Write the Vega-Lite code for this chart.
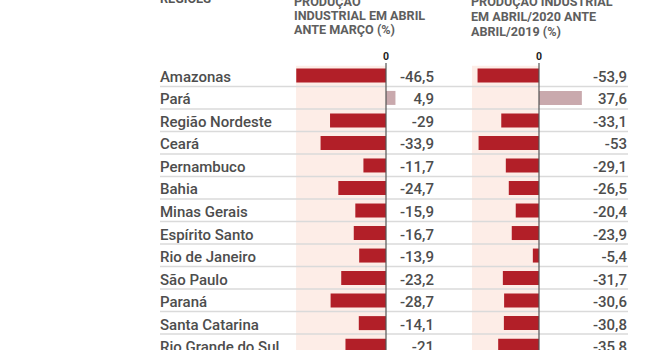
{
  "$schema": "https://vega.github.io/schema/vega-lite/v6.json",
  "width": 654,
  "height": 350,
  "autosize": {"type": "none"},
  "padding": 0,
  "background": "#ffffff",
  "config": {
    "view": {"stroke": null},
    "locale": {"number": {"decimal": ",", "thousands": ".", "grouping": [3], "currency": ["R$", ""], "minus": "-"}},
    "text": {"font": "Roboto"}
  },
  "data": {
    "values": [
      {"regiao": "Amazonas", "ordem": 0, "mensal": -46.5, "anual": -53.9},
      {"regiao": "Pará", "ordem": 1, "mensal": 4.9, "anual": 37.6},
      {"regiao": "Região Nordeste", "ordem": 2, "mensal": -29, "anual": -33.1},
      {"regiao": "Ceará", "ordem": 3, "mensal": -33.9, "anual": -53},
      {"regiao": "Pernambuco", "ordem": 4, "mensal": -11.7, "anual": -29.1},
      {"regiao": "Bahia", "ordem": 5, "mensal": -24.7, "anual": -26.5},
      {"regiao": "Minas Gerais", "ordem": 6, "mensal": -15.9, "anual": -20.4},
      {"regiao": "Espírito Santo", "ordem": 7, "mensal": -16.7, "anual": -23.9},
      {"regiao": "Rio de Janeiro", "ordem": 8, "mensal": -13.9, "anual": -5.4},
      {"regiao": "São Paulo", "ordem": 9, "mensal": -23.2, "anual": -31.7},
      {"regiao": "Paraná", "ordem": 10, "mensal": -28.7, "anual": -30.6},
      {"regiao": "Santa Catarina", "ordem": 11, "mensal": -14.1, "anual": -30.8},
      {"regiao": "Rio Grande do Sul", "ordem": 12, "mensal": -21, "anual": -35.8}
    ]
  },
  "resolve": {"scale": {"x": "independent"}},
  "layer": [
    {
      "data": {"values": [{}]},
      "mark": {"type": "rect", "color": "#fdede7"},
      "encoding": {
        "x": {"datum": -46.6, "type": "quantitative", "scale": {"domain": [-200, 138.86], "nice": false, "zero": false}, "axis": null},
        "x2": {"datum": 0},
        "y": {"datum": -0.43, "type": "quantitative", "scale": {"domain": [-3.348, 12.194], "reverse": true, "nice": false, "zero": false}, "axis": null},
        "y2": {"datum": 12.194}
      }
    },
    {
      "data": {"values": [{}]},
      "mark": {"type": "rect", "color": "#fdede7"},
      "encoding": {
        "x": {"datum": -58.8, "type": "quantitative", "scale": {"domain": [-472.8, 100.88], "nice": false, "zero": false}, "axis": null},
        "x2": {"datum": 0},
        "y": {"datum": -0.43, "type": "quantitative", "scale": {"domain": [-3.348, 12.194], "reverse": true, "nice": false, "zero": false}, "axis": null},
        "y2": {"datum": 12.194}
      }
    },
    {
      "mark": {"type": "rule", "color": "#dadada", "strokeWidth": 1.5, "yOffset": 11},
      "encoding": {
        "x": {"datum": -117.1, "type": "quantitative", "scale": {"domain": [-200, 138.86], "nice": false, "zero": false}, "axis": null},
        "x2": {"datum": 125.4},
        "y": {"field": "ordem", "type": "quantitative", "scale": {"domain": [-3.348, 12.194], "reverse": true, "nice": false, "zero": false}, "axis": null}
      }
    },
    {
      "mark": {"type": "rule", "strokeWidth": 14},
      "encoding": {
        "x": {"field": "mensal", "type": "quantitative", "scale": {"domain": [-200, 138.86], "nice": false, "zero": false}, "axis": null},
        "x2": {"datum": 0},
        "y": {"field": "ordem", "type": "quantitative", "scale": {"domain": [-3.348, 12.194], "reverse": true, "nice": false, "zero": false}, "axis": null},
        "color": {"condition": {"test": "datum.mensal > 0", "value": "#c9a9ad"}, "value": "#b21f28"}
      }
    },
    {
      "mark": {"type": "rule", "strokeWidth": 14},
      "encoding": {
        "x": {"field": "anual", "type": "quantitative", "scale": {"domain": [-472.8, 100.88], "nice": false, "zero": false}, "axis": null},
        "x2": {"datum": 0},
        "y": {"field": "ordem", "type": "quantitative", "scale": {"domain": [-3.348, 12.194], "reverse": true, "nice": false, "zero": false}, "axis": null},
        "color": {"condition": {"test": "datum.anual > 0", "value": "#c9a9ad"}, "value": "#b21f28"}
      }
    },
    {
      "data": {"values": [{}]},
      "mark": {"type": "rule", "color": "#555555", "strokeWidth": 1.2},
      "encoding": {
        "x": {"datum": 0, "type": "quantitative", "scale": {"domain": [-200, 138.86], "nice": false, "zero": false}, "axis": null},
        "y": {"datum": -0.55, "type": "quantitative", "scale": {"domain": [-3.348, 12.194], "reverse": true, "nice": false, "zero": false}, "axis": null},
        "y2": {"datum": 12.194}
      }
    },
    {
      "data": {"values": [{}]},
      "mark": {"type": "rule", "color": "#555555", "strokeWidth": 1.2},
      "encoding": {
        "x": {"datum": 0, "type": "quantitative", "scale": {"domain": [-472.8, 100.88], "nice": false, "zero": false}, "axis": null},
        "y": {"datum": -0.55, "type": "quantitative", "scale": {"domain": [-3.348, 12.194], "reverse": true, "nice": false, "zero": false}, "axis": null},
        "y2": {"datum": 12.194}
      }
    },
    {
      "mark": {"type": "text", "align": "left", "baseline": "middle", "dy": 1.5, "fontSize": 15, "fontWeight": 500, "color": "#4d4d4d"},
      "encoding": {
        "x": {"datum": -117.1, "type": "quantitative", "scale": {"domain": [-200, 138.86], "nice": false, "zero": false}, "axis": null},
        "y": {"field": "ordem", "type": "quantitative", "scale": {"domain": [-3.348, 12.194], "reverse": true, "nice": false, "zero": false}, "axis": null},
        "text": {"field": "regiao", "type": "nominal"}
      }
    },
    {
      "mark": {"type": "text", "align": "right", "baseline": "middle", "dy": 1.5, "fontSize": 15, "fontWeight": 500, "color": "#4d4d4d"},
      "encoding": {
        "x": {"datum": 24.87, "type": "quantitative", "scale": {"domain": [-200, 138.86], "nice": false, "zero": false}, "axis": null},
        "y": {"field": "ordem", "type": "quantitative", "scale": {"domain": [-3.348, 12.194], "reverse": true, "nice": false, "zero": false}, "axis": null},
        "text": {"field": "mensal", "type": "quantitative", "format": ".3~r"}
      }
    },
    {
      "mark": {"type": "text", "align": "right", "baseline": "middle", "dy": 1.5, "fontSize": 15, "fontWeight": 500, "color": "#4d4d4d"},
      "encoding": {
        "x": {"datum": 77.2, "type": "quantitative", "scale": {"domain": [-472.8, 100.88], "nice": false, "zero": false}, "axis": null},
        "y": {"field": "ordem", "type": "quantitative", "scale": {"domain": [-3.348, 12.194], "reverse": true, "nice": false, "zero": false}, "axis": null},
        "text": {"field": "anual", "type": "quantitative", "format": ".3~r"}
      }
    },
    {
      "data": {"values": [{}]},
      "mark": {"type": "text", "align": "center", "baseline": "alphabetic", "fontSize": 10.5, "fontWeight": "bold", "color": "#222222", "text": "0"},
      "encoding": {
        "x": {"datum": 0, "type": "quantitative", "scale": {"domain": [-200, 138.86], "nice": false, "zero": false}, "axis": null},
        "y": {"datum": -0.684, "type": "quantitative", "scale": {"domain": [-3.348, 12.194], "reverse": true, "nice": false, "zero": false}, "axis": null}
      }
    },
    {
      "data": {"values": [{}]},
      "mark": {"type": "text", "align": "center", "baseline": "alphabetic", "fontSize": 10.5, "fontWeight": "bold", "color": "#222222", "text": "0"},
      "encoding": {
        "x": {"datum": 0, "type": "quantitative", "scale": {"domain": [-472.8, 100.88], "nice": false, "zero": false}, "axis": null},
        "y": {"datum": -0.684, "type": "quantitative", "scale": {"domain": [-3.348, 12.194], "reverse": true, "nice": false, "zero": false}, "axis": null}
      }
    },
    {
      "data": {"values": [{}]},
      "mark": {"type": "text", "align": "left", "baseline": "alphabetic", "fontSize": 12.6, "fontWeight": "bold", "color": "#555555", "text": "REGIÕES"},
      "encoding": {
        "x": {"datum": -117.1, "type": "quantitative", "scale": {"domain": [-200, 138.86], "nice": false, "zero": false}, "axis": null},
        "y": {"datum": -3.215, "type": "quantitative", "scale": {"domain": [-3.348, 12.194], "reverse": true, "nice": false, "zero": false}, "axis": null}
      }
    },
    {
      "data": {"values": [{}]},
      "mark": {"type": "text", "align": "left", "baseline": "alphabetic", "fontSize": 12.6, "fontWeight": "bold", "color": "#5e5e5e", "lineHeight": 13.8, "text": ["PRODUÇÃO", "INDUSTRIAL EM ABRIL", "ANTE MARÇO (%)"]},
      "encoding": {
        "x": {"datum": -47.67, "type": "quantitative", "scale": {"domain": [-200, 138.86], "nice": false, "zero": false}, "axis": null},
        "y": {"datum": -3.06, "type": "quantitative", "scale": {"domain": [-3.348, 12.194], "reverse": true, "nice": false, "zero": false}, "axis": null}
      }
    },
    {
      "data": {"values": [{}]},
      "mark": {"type": "text", "align": "left", "baseline": "alphabetic", "fontSize": 12.6, "fontWeight": "bold", "color": "#5e5e5e", "lineHeight": 14.8, "text": ["PRODUÇÃO INDUSTRIAL", "EM ABRIL/2020 ANTE", "ABRIL/2019 (%)"]},
      "encoding": {
        "x": {"datum": 44.04, "type": "quantitative", "scale": {"domain": [-200, 138.86], "nice": false, "zero": false}, "axis": null},
        "y": {"datum": -3.06, "type": "quantitative", "scale": {"domain": [-3.348, 12.194], "reverse": true, "nice": false, "zero": false}, "axis": null}
      }
    }
  ]
}
